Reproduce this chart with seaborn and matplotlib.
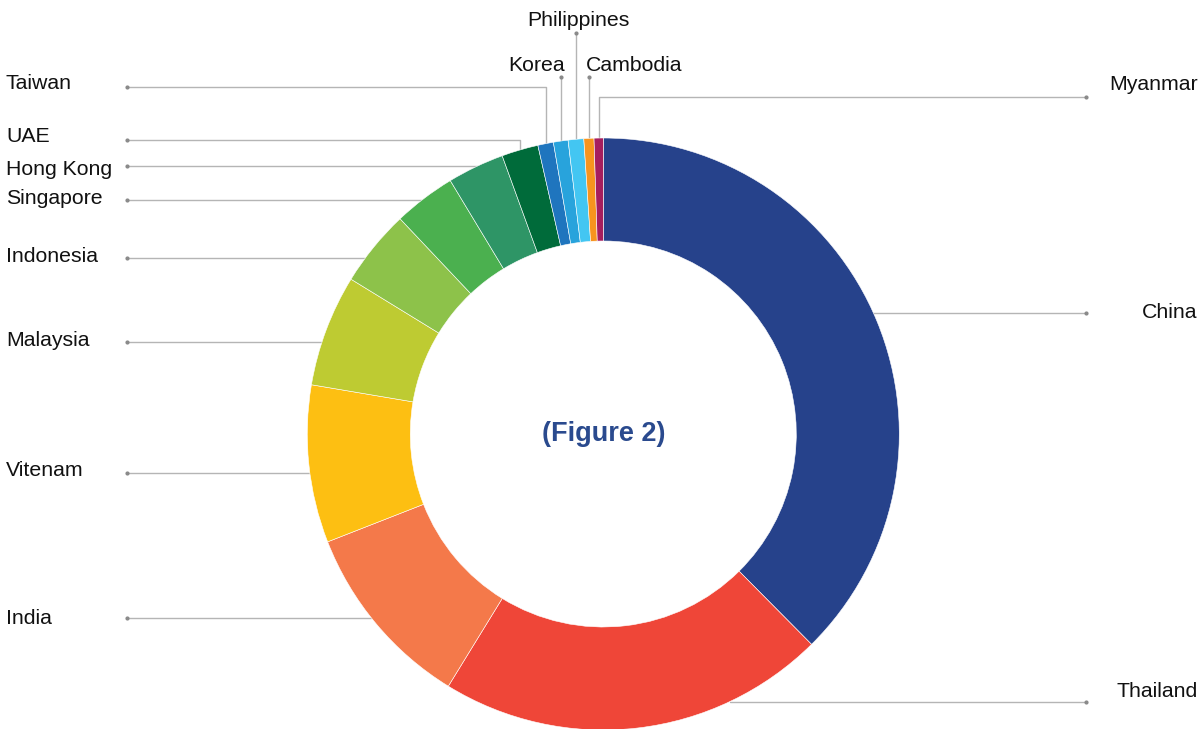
import matplotlib.pyplot as plt
import numpy as np
import seaborn as sns

countries = ["China", "Thailand", "India", "Vitenam", "Malaysia", "Indonesia",
             "Singapore", "Hong Kong", "UAE", "Taiwan", "Korea", "Philippines",
             "Cambodia", "Myanmar"]
shares = [37.6, 21.2, 10.3, 8.6, 6.1, 4.2, 3.4, 3.1, 2.0, 0.85, 0.8, 0.85, 0.55, 0.5]
colors = ["#26428b", "#ef4638", "#f4794a", "#fdbf12", "#becb32", "#8dc24a",
          "#4bb04f", "#2e9566", "#006b3a", "#1f75be", "#28a3dc", "#43c6f2",
          "#f7941e", "#a61e5e"]
center_text = "(Figure 2)"

# layout, pixels measured from top-left
W, H = 1199, 729
CX, CY, R = 603.3, 434, 296
RING = 103
LEFT_X, RIGHT_X = 127, 1086
LINE_C, DOT_C = "#b5b5b5", "#8a8a8a"

# label: (text x, text baseline, ha, leader kind, leader y)
layout = {
    "Taiwan": (6, 89, "left", "left_elbow", 87),
    "UAE": (6, 142, "left", "left_elbow", 140),
    "Hong Kong": (6, 175, "left", "left", 166),
    "Singapore": (6, 204, "left", "left", 200),
    "Indonesia": (6, 262, "left", "left", 258),
    "Malaysia": (6, 346, "left", "left", 342),
    "Vitenam": (6, 476, "left", "left", 472.5),
    "India": (6, 624, "left", "left", 618),
    "China": (1197, 318, "right", "right", 312.5),
    "Thailand": (1198, 697, "right", "right", 701.5),
    "Myanmar": (1198, 90, "right", "right_elbow", 97),
    "Korea": (537, 70.5, "center", "up", 77),
    "Philippines": (578.5, 25.5, "center", "up", 33),
    "Cambodia": (634, 70.5, "center", "up", 77),
}

sns.set_theme(style="white")
plt.rcParams["font.family"] = ["Liberation Sans", "DejaVu Sans"]

palette = sns.color_palette(colors)

fig = plt.figure(figsize=(W / 100, H / 100), dpi=100)
ax = fig.add_axes([0, 0, 1, 1])

ax.pie(
    shares,
    colors=palette,
    startangle=90,
    counterclock=False,
    radius=R,
    center=(CX, H - CY),
    wedgeprops=dict(width=RING, edgecolor="white", linewidth=0.4),
    frame=False,
)


def fy(y):
    return H - y


# mid angle of each wedge, clockwise from top
total = sum(shares)
cum = np.cumsum([0] + list(shares))
mids = {c: np.deg2rad((cum[i] + shares[i] / 2) / total * 360) for i, c in enumerate(countries)}

for name in countries:
    tx, ty, ha, kind, ly = layout[name]
    th = mids[name]
    mx, my = CX + R * np.sin(th), CY - R * np.cos(th)
    if kind == "left":
        ex = CX - np.sqrt(R**2 - (ly - CY) ** 2)
        ax.plot([LEFT_X, ex], [fy(ly), fy(ly)], color=LINE_C, lw=1, zorder=0)
        dot = (LEFT_X, ly)
    elif kind == "right":
        ex = CX + np.sqrt(R**2 - (ly - CY) ** 2)
        ax.plot([ex, RIGHT_X], [fy(ly), fy(ly)], color=LINE_C, lw=1, zorder=0)
        dot = (RIGHT_X, ly)
    elif kind == "left_elbow":
        ax.plot([LEFT_X, mx, mx], [fy(ly), fy(ly), fy(my)], color=LINE_C, lw=1, zorder=0)
        dot = (LEFT_X, ly)
    elif kind == "right_elbow":
        ax.plot([mx, mx, RIGHT_X], [fy(my), fy(ly), fy(ly)], color=LINE_C, lw=1, zorder=0)
        dot = (RIGHT_X, ly)
    else:
        ax.plot([mx, mx], [fy(my), fy(ly)], color=LINE_C, lw=1, zorder=0)
        dot = (mx, ly)
    ax.plot(dot[0], fy(dot[1]), "o", color=DOT_C, ms=2, zorder=1)
    ax.text(tx, fy(ty), name, ha=ha, va="baseline", fontsize=15.3, color="#111111")

ax.text(CX, fy(CY), center_text, ha="center", va="center", fontsize=19.5,
        fontweight="bold", color="#2a4a8e")

ax.set_xlim(0, W)
ax.set_ylim(0, H)
ax.set_aspect("equal")
ax.axis("off")

fig.savefig("out.png", dpi=100)
plt.close(fig)
